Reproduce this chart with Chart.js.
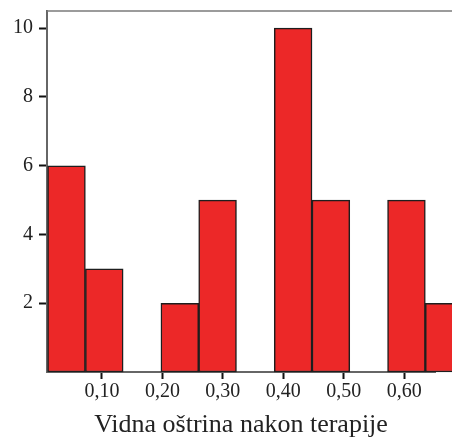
<!DOCTYPE html>
<html>
<head>
<meta charset="utf-8">
<script src="https://cdn.jsdelivr.net/npm/chart.js@4/dist/chart.umd.min.js"></script>
<style>
  html, body { margin: 0; padding: 0; background: #fff; overflow: hidden; }
  #wrap { width: 452px; height: 441px; position: relative; }
</style>
</head>
<body>
<div id="wrap"><canvas id="hist"></canvas></div>
<script>
// histogram bins (centre of each bin) and counts
const binCenters = [0.04125, 0.10375, 0.16625, 0.22875, 0.29125, 0.35375, 0.41625, 0.47875, 0.54125, 0.60375, 0.66625];
const counts = [6, 3, 0, 2, 5, 0, 10, 5, 0, 5, 2];
const xTickValues = [0.10, 0.20, 0.30, 0.40, 0.50, 0.60];
const yTickValues = [2, 4, 6, 8, 10];
const xTitle = "Vidna oštrina nakon terapije";

const serif = "'Liberation Serif', 'DejaVu Serif', serif";

// thin frame line along the top of the plot
const topLine = {
  id: "topLine",
  afterDraw(chart) {
    const ctx = chart.ctx;
    const a = chart.chartArea;
    ctx.save();
    ctx.strokeStyle = "#7a7a7a";
    ctx.lineWidth = 1.5;
    ctx.beginPath();
    ctx.moveTo(a.left, a.top);
    ctx.lineTo(chart.width, a.top);
    ctx.stroke();
    ctx.restore();
  }
};

const ctx = document.getElementById("hist").getContext("2d");
new Chart(ctx, {
  type: "bar",
  data: {
    datasets: [{
      data: binCenters.map((x, i) => ({ x: x, y: counts[i] })),
      backgroundColor: "#ec2828",
      borderColor: "#1e1e1e",
      borderWidth: 1.5,
      borderSkipped: false,
      barPercentage: 1,
      categoryPercentage: 1,
      clip: false
    }]
  },
  options: {
    responsive: true,
    maintainAspectRatio: false,
    animation: false,
    layout: { padding: { top: 11, right: 17, left: 0, bottom: 0 } },
    plugins: {
      legend: { display: false },
      tooltip: { enabled: false }
    },
    scales: {
      x: {
        type: "linear",
        min: 0.009,
        max: 0.651,
        offset: false,
        afterBuildTicks: (scale) => { scale.ticks = xTickValues.map(v => ({ value: v })); },
        afterFit: (scale) => { scale.height = 69; scale.paddingLeft = 0; scale.paddingRight = 0; },
        grid: {
          offset: false,
          drawOnChartArea: false,
          drawTicks: true,
          tickLength: 7,
          tickWidth: 2,
          tickColor: "#111"
        },
        border: { display: true, color: "#666", width: 2 },
        ticks: {
          padding: 1,
          color: "#222",
          font: { family: serif, size: 20 },
          maxRotation: 0,
          callback: (v) => Number(v).toFixed(2).replace(".", ",")
        },
        title: {
          display: true,
          text: xTitle,
          color: "#222",
          font: { family: serif, size: 26 },
          padding: { top: 0, bottom: 0 }
        }
      },
      y: {
        min: 0,
        max: 10.5,
        afterBuildTicks: (scale) => { scale.ticks = yTickValues.map(v => ({ value: v })); },
        afterFit: (scale) => { scale.width = 47; scale.paddingTop = 0; scale.paddingBottom = 0; },
        grid: {
          drawOnChartArea: false,
          drawTicks: true,
          tickLength: 8,
          tickWidth: 2,
          tickColor: "#111"
        },
        border: { display: true, color: "#666", width: 2 },
        ticks: {
          padding: 6,
          color: "#222",
          font: { family: serif, size: 20 }
        }
      }
    }
  },
  plugins: [topLine]
});
</script>
</body>
</html>
